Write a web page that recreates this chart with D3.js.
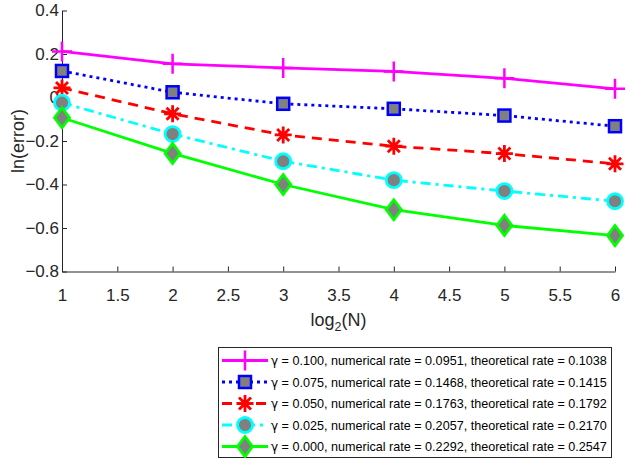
<!DOCTYPE html>
<html><head><meta charset="utf-8">
<script src="https://cdn.jsdelivr.net/npm/d3@7"></script>
<style>body{margin:0;background:#fff}svg{display:block}</style>
</head><body>
<svg id="c" width="629" height="458"></svg>
<script>
const xValues = [1, 2, 3, 4, 5, 6];
const gammas = ["0.100", "0.075", "0.050", "0.025", "0.000"];
const numericalRates = ["0.0951", "0.1468", "0.1763", "0.2057", "0.2292"];
const theoreticalRates = ["0.1038", "0.1415", "0.1792", "0.2170", "0.2547"];
const seriesG100 = [0.212, 0.155, 0.136, 0.120, 0.088, 0.040];
const seriesG075 = [0.122, 0.024, -0.029, -0.052, -0.083, -0.132];
const seriesG050 = [0.044, -0.075, -0.172, -0.224, -0.258, -0.305];
const seriesG025 = [-0.024, -0.168, -0.293, -0.380, -0.430, -0.477];
const seriesG000 = [-0.093, -0.257, -0.400, -0.516, -0.588, -0.635];
const xTicks = [1, 1.5, 2, 2.5, 3, 3.5, 4, 4.5, 5, 5.5, 6];
const yTicks = [-0.8, -0.6, -0.4, -0.2, 0, 0.2, 0.4];

const styles = [
  {color: "#ff00ff", dash: null, marker: "plus"},
  {color: "#0000ff", dash: "3,4", marker: "square"},
  {color: "#ff0000", dash: "10,7", marker: "star"},
  {color: "#00ffff", dash: "10,5,3,5", marker: "circle"},
  {color: "#00ff00", dash: null, marker: "diamond"}
];
const allSeries = [seriesG100, seriesG075, seriesG050, seriesG025, seriesG000];

const svg = d3.select("#c");
const font = "Liberation Sans, Arial, Helvetica, sans-serif";
const axisColor = "#262626";
const x = d3.scaleLinear().domain([1, 6]).range([62, 615]);
const y = d3.scaleLinear().domain([-0.8, 0.4]).range([271.5, 10.5]);

// axes
const xAxis = svg.append("g").attr("transform", `translate(0,${y(-0.8)})`)
  .call(d3.axisBottom(x).tickValues(xTicks).tickSizeInner(-5).tickSizeOuter(0).tickPadding(17).tickFormat(d3.format("")));
const yAxis = svg.append("g").attr("transform", `translate(${x(1)},0)`)
  .call(d3.axisLeft(y).tickValues(yTicks).tickSizeInner(-5).tickSizeOuter(0).tickPadding(3)
    .tickFormat(d => d === 0 ? "0" : d3.format("")(+d.toFixed(1))));
[xAxis, yAxis].forEach(a => {
  a.attr("font-size", null).attr("font-family", null);
  a.select(".domain").attr("stroke", axisColor).attr("stroke-width", 1);
  a.selectAll(".tick line").attr("stroke", axisColor);
  a.selectAll("text").attr("fill", axisColor).style("font-family", font).style("font-size", "17px");
});

// axis labels
svg.append("text").attr("x", (x(1) + x(6)) / 2).attr("y", 326).attr("text-anchor", "middle")
  .style("font-family", font).style("font-size", "18px").attr("fill", axisColor)
  .html('log<tspan dy="5" font-size="12.5px">2</tspan><tspan dy="-5">(N)</tspan>');
svg.append("text").attr("transform", `translate(24,${(y(0.4) + y(-0.8)) / 2}) rotate(-90)`).attr("text-anchor", "middle")
  .style("font-family", font).style("font-size", "18px").attr("fill", axisColor).text("ln(error)");

function drawMarker(g, type, color, cx, cy) {
  const grey = "#808080";
  if (type === "plus") {
    g.append("path").attr("d", `M${cx - 10},${cy}H${cx + 10}M${cx},${cy - 10}V${cy + 10}`)
      .attr("stroke", color).attr("stroke-width", 2.5).attr("fill", "none");
  } else if (type === "square") {
    g.append("rect").attr("x", cx - 6).attr("y", cy - 6).attr("width", 12).attr("height", 12)
      .attr("fill", grey).attr("stroke", color).attr("stroke-width", 2.5);
  } else if (type === "star") {
    let d = "";
    const r = 8.5;
    for (let k = 0; k < 4; k++) {
      const a = k * Math.PI / 4 + Math.PI / 2;
      d += `M${cx - r * Math.cos(a)},${cy - r * Math.sin(a)}L${cx + r * Math.cos(a)},${cy + r * Math.sin(a)}`;
    }
    g.append("path").attr("d", d).attr("stroke", color).attr("stroke-width", 2.8).attr("fill", "none");
  } else if (type === "circle") {
    g.append("circle").attr("cx", cx).attr("cy", cy).attr("r", 7.5)
      .attr("fill", grey).attr("stroke", color).attr("stroke-width", 2.8);
  } else if (type === "diamond") {
    const r = 10;
    g.append("path").attr("d", `M${cx},${cy - r}L${cx + r * 0.75},${cy}L${cx},${cy + r}L${cx - r * 0.75},${cy}Z`)
      .attr("fill", grey).attr("stroke", color).attr("stroke-width", 2.8);
  }
}

const line = d3.line().x((d, i) => x(xValues[i])).y(d => y(d));
const plot = svg.append("g");
allSeries.forEach((s, k) => {
  const st = styles[k];
  plot.append("path").datum(s).attr("d", line).attr("fill", "none")
    .attr("stroke", st.color).attr("stroke-width", 2.8)
    .attr("stroke-dasharray", st.dash);
});
allSeries.forEach((s, k) => {
  const st = styles[k];
  const g = plot.append("g");
  s.forEach((v, i) => drawMarker(g, st.marker, st.color, x(xValues[i]), y(v)));
});

// legend
const lg = svg.append("g");
const lx = 218, ly = 347, lw = 393, lh = 110;
lg.append("rect").attr("x", lx + 0.5).attr("y", ly + 0.5).attr("width", lw).attr("height", lh)
  .attr("fill", "#fff").attr("stroke", axisColor).attr("stroke-width", 1);
gammas.forEach((gm, k) => {
  const st = styles[k];
  const cy = ly + 13.5 + k * 21.5;
  lg.append("line").attr("x1", lx + 4).attr("x2", lx + 50).attr("y1", cy).attr("y2", cy)
    .attr("stroke", st.color).attr("stroke-width", 2.8).attr("stroke-dasharray", st.dash);
  drawMarker(lg, st.marker, st.color, lx + 27, cy);
  const t = lg.append("text").attr("x", lx + 53).attr("y", cy + 4.5)
    .style("font-family", font).style("font-size", "12.6px").attr("fill", "#000");
  t.append("tspan").style("font-family", "DejaVu Sans, sans-serif").style("font-size", "12px").text("γ");
  t.append("tspan").text(` = ${gm}, numerical rate = ${numericalRates[k]}, theoretical rate = ${theoreticalRates[k]}`);
});
</script>
</body></html>
